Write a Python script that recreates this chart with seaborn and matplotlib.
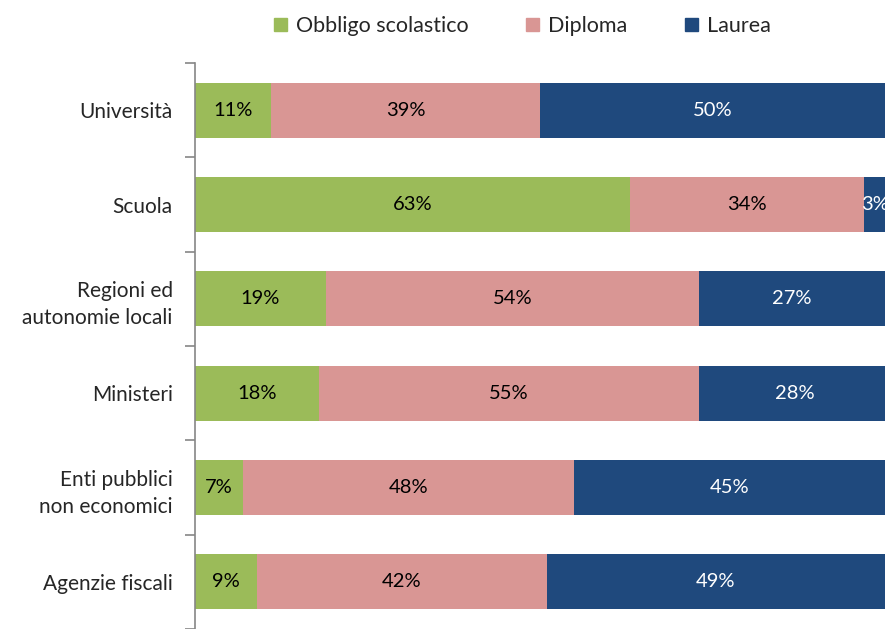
import pandas as pd
import matplotlib.pyplot as plt
import matplotlib.patches as mpatches
import seaborn as sns

# data
categories = ["Università", "Scuola", "Regioni ed\nautonomie locali", "Ministeri",
              "Enti pubblici\nnon economici", "Agenzie fiscali"]
obbligo = [11, 63, 19, 18, 7, 9]
diploma = [39, 34, 54, 55, 48, 42]
laurea = [50, 3, 27, 28, 45, 49]

series_names = ["Obbligo scolastico", "Diploma", "Laurea"]
colors = ["#9BBB59", "#D99694", "#1F497D"]
text_colors = ["black", "black", "white"]

sns.set_style("white")
plt.rcParams["font.family"] = ["Lato", "DejaVu Sans"]

df = pd.DataFrame({"cat": categories, "Obbligo scolastico": obbligo,
                   "Diploma": diploma, "Laurea": laurea})
df["c1"] = df["Obbligo scolastico"]
df["c2"] = df["c1"] + df["Diploma"]
df["c3"] = df["c2"] + df["Laurea"]

fig = plt.figure(figsize=(8.87, 6.29), dpi=100)
ax = fig.add_axes([0.2198, 0.0, 0.9977 - 0.2198, 0.8998])

# stacked: draw cumulative totals largest first
for col, color in zip(["c3", "c2", "c1"], colors[::-1]):
    sns.barplot(data=df, x=col, y="cat", orient="h", color=color,
                width=0.58, ax=ax, saturation=1, edgecolor="none")

# segment labels
for i, row in df.iterrows():
    left = 0
    for name, tc in zip(series_names, text_colors):
        v = row[name]
        ax.text(left + v / 2, i, f"{v}%", ha="center", va="center",
                fontsize=14.5, color=tc, clip_on=False)
        left += v

ax.set_xlim(0, 100)
ax.set_ylim(5.5, -0.5)
ax.set_xlabel("")
ax.set_ylabel("")
ax.xaxis.set_visible(False)
for s in ["top", "right", "bottom"]:
    ax.spines[s].set_visible(False)
ax.spines["left"].set_color("#868686")
ax.spines["left"].set_linewidth(1.2)

ax.set_yticks(range(len(categories)))
ax.set_yticklabels(categories, fontsize=15, linespacing=1.45)
ax.tick_params(axis="y", which="major", length=0, pad=16)
ax.set_yticks([i - 0.5 for i in range(len(categories) + 1)], minor=True)
ax.tick_params(axis="y", which="minor", left=True, length=7, width=1.2,
               color="#868686", direction="out")

handles = [mpatches.Patch(color=c, label=n) for c, n in zip(colors, series_names)]
fig.legend(handles=handles, loc="upper center", bbox_to_anchor=(0.589, 1.005),
           ncol=3, frameon=False, fontsize=15.5, handlelength=0.6,
           handleheight=0.6, handletextpad=0.4, columnspacing=2.7)

fig.savefig("out.png", dpi=100)
